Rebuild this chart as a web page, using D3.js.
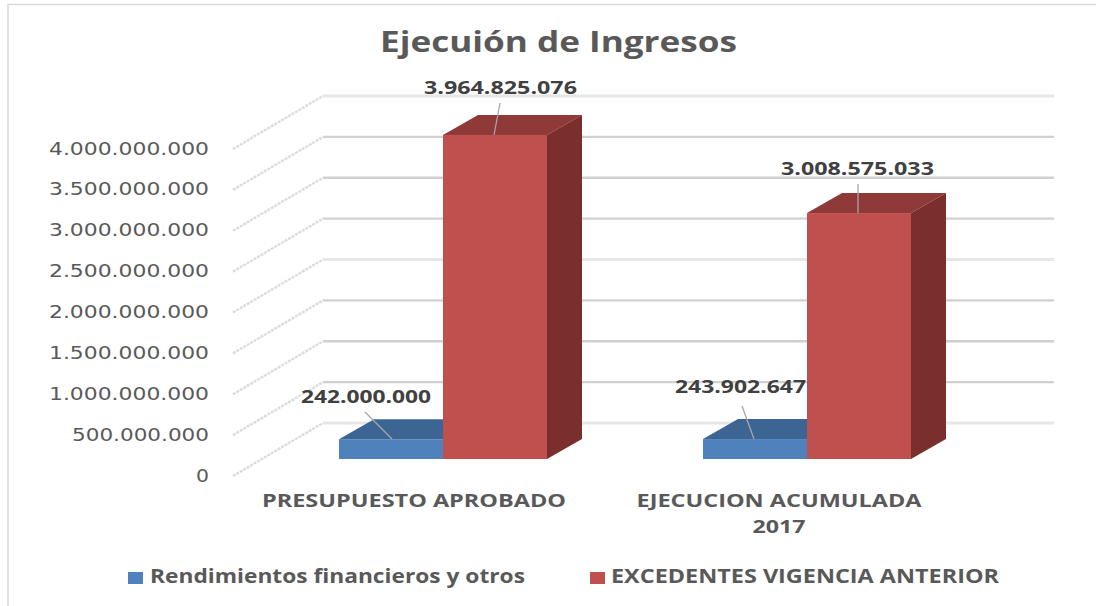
<!DOCTYPE html>
<html><head><meta charset="utf-8">
<script src="https://cdn.jsdelivr.net/npm/d3@7"></script>
<style>html,body{margin:0;background:#fff}svg{display:block}text{font-family:"Open Sans",sans-serif}.t{font-family:"DejaVu Sans",sans-serif}</style>
</head><body><svg id="c" width="1096" height="606"></svg>
<script>
const categories = ["PRESUPUESTO APROBADO", "EJECUCION ACUMULADA 2017"];
const categoryLines = [["PRESUPUESTO APROBADO"], ["EJECUCION ACUMULADA", "2017"]];
const seriesNames = ["Rendimientos financieros y otros", "EXCEDENTES VIGENCIA ANTERIOR"];
const rendimientos = [242000000, 243902647];
const excedentes = [3964825076, 3008575033];
const tickValues = [0,500000000,1000000000,1500000000,2000000000,2500000000,3000000000,3500000000,4000000000];
const tickLabels = ["0","500.000.000","1.000.000.000","1.500.000.000","2.000.000.000","2.500.000.000","3.000.000.000","3.500.000.000","4.000.000.000"];
const valueLabels = [["242.000.000","3.964.825.076"],["243.902.647","3.008.575.033"]];

const svg = d3.select("#c");
const colors = {blue:["#4f81bd","#3d6594","#345678"], red:["#c0504d","#8f3a38","#7a2f2d"]};
const yFront = d3.scaleLinear().domain([0,4000000000]).range([459,132]);
const dy = v => yFront(0)-yFront(v);
const wallDepth = {dx:90, dy:-53};
const axisY0 = 476;
const barDepth = {dx:35, dy:-20};

// chart border
svg.append("path").attr("d","M8,606V4.5H1096").attr("fill","none").attr("stroke","#d9d9d9").attr("stroke-width",1.5);

function fit(sel,len){return sel.attr("textLength",len).attr("lengthAdjust","spacingAndGlyphs");}
fit(svg.append("text").attr("x",380).attr("y",52).attr("font-size",28).attr("font-weight",700).attr("fill","#595959").text("Ejecuión de Ingresos"),357);

const grid = svg.append("g");
tickValues.forEach((v,i)=>{
  const yf = axisY0-dy(v), yb = yf+wallDepth.dy;
  grid.append("line").attr("x1",233).attr("y1",yf).attr("x2",233+wallDepth.dx).attr("y2",yb)
    .attr("stroke","#dcdcdc").attr("stroke-width",2.4).attr("stroke-dasharray","3 1");
  grid.append("line").attr("x1",323).attr("y1",yb).attr("x2",1054).attr("y2",yb)
    .attr("stroke",i%4==0?"#e6e6e6":"#d0d0d0").attr("stroke-width",i%4==0?3:2.4);
  fit(svg.append("text").attr("class","t").attr("x",209).attr("y",yf+5.5).attr("text-anchor","end").attr("font-size",18).attr("fill","#595959").text(tickLabels[i]),
    tickLabels[i].length>1?(tickLabels[i].length==11?137:160):13);
});

function bar(x,w,v,c){
  const yb=yFront(0), yt=yFront(v), d=barDepth;
  const g=svg.append("g");
  g.append("path").attr("d",`M${x},${yt}l${d.dx},${d.dy}h${w}l${-d.dx},${-d.dy}z`).attr("fill",c[1]);
  g.append("path").attr("d",`M${x+w},${yt}l${d.dx},${d.dy}V${yb+d.dy}l${-d.dx},${-d.dy}z`).attr("fill",c[2]);
  g.append("rect").attr("x",x).attr("y",yt).attr("width",w).attr("height",yb-yt).attr("fill",c[0]);
}
const bw=104;
const groups=[339,703];
categories.forEach((c,i)=>{
  bar(groups[i],bw,rendimientos[i],colors.blue);
  bar(groups[i]+bw,bw,excedentes[i],colors.red);
});

const leaders=[[365,412,392,439],[500,103,494,135],[742,406,754,439],[858,184,858,213]];
leaders.forEach(l=>svg.append("line").attr("x1",l[0]).attr("y1",l[1]).attr("x2",l[2]).attr("y2",l[3]).attr("stroke","#a6a6a6").attr("stroke-width",1.3));

const labelPos=[[[301,403],[424,94]],[[675,393],[781,175]]];
valueLabels.forEach((r,i)=>r.forEach((t,j)=>{
  fit(svg.append("text").attr("x",labelPos[i][j][0]).attr("y",labelPos[i][j][1]).attr("font-size",18).attr("font-weight",700).attr("fill","#404040").text(t),j==0?(i==0?130:131):153);
}));

const catPos=[[[414,507]],[[779,507],[779,533]]];
categoryLines.forEach((ls,i)=>ls.forEach((t,j)=>{
  svg.append("text").attr("x",catPos[i][j][0]).attr("y",catPos[i][j][1]).attr("text-anchor","middle").attr("font-size",18).attr("font-weight",700).attr("fill","#595959")
   .attr("textLength",t.length>10?(i==0?304:285):53).attr("lengthAdjust","spacingAndGlyphs").text(t);
}));

const lg=[[128,150,375],[590,611,388]];
seriesNames.forEach((t,i)=>{
  svg.append("rect").attr("x",lg[i][0]).attr("y",572).attr("width",15).attr("height",12).attr("fill",i?colors.red[0]:colors.blue[0]);
  fit(svg.append("text").attr("x",lg[i][1]).attr("y",583).attr("font-size",19).attr("font-weight",700).attr("fill","#595959").text(t),lg[i][2]);
});
</script></body></html>
